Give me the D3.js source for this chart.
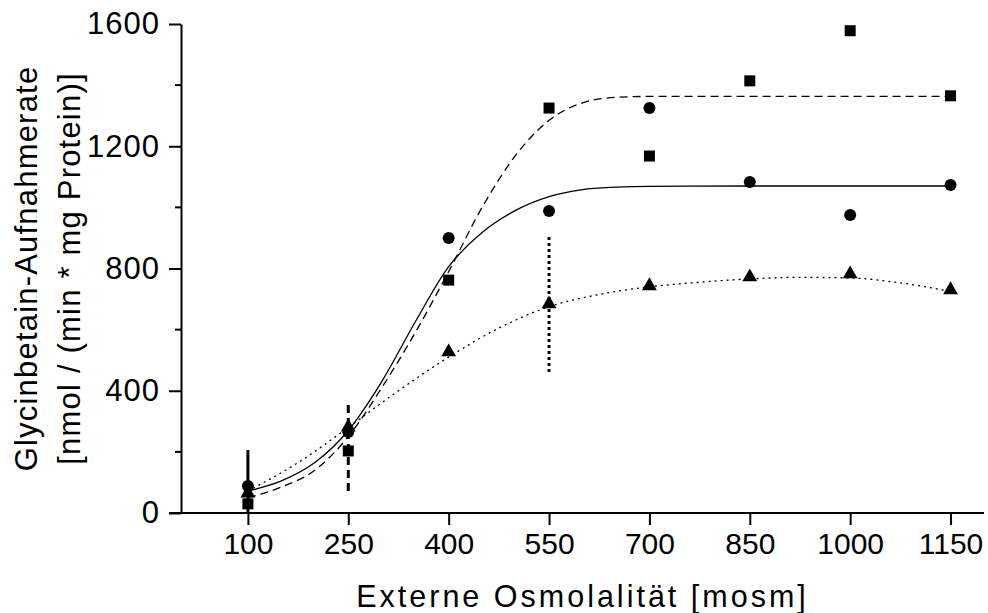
<!DOCTYPE html>
<html lang="de">
<head>
    <meta charset="UTF-8">
    <title>Glycinbetain-Aufnahmerate</title>
    <script src="https://d3js.org/d3.v7.min.js"></script>
<style>
    body { margin: 0; background: #fff; }
    text { font-family: "Liberation Sans", Arial, sans-serif; fill: #000; }
</style>
</head>
<body>
</body>
<script>

// measured values
const osm = [100, 250, 400, 550, 700, 850, 1000, 1150];
const squares = [30, 203, 762, 1325, 1168, 1414, 1578, 1365];
const circles = [88, 265, 900, 988, 1325, 1083, 975, 1073];
const triangles = [65, 281, 527, 684, 743, 772, 782, 730];

// fitted curves
const fitSquares = [[100, 50], [150, 85], [200, 140], [250, 250], [300, 410], [350, 590], [400, 790], [450, 1000], [500, 1170], [550, 1285], [600, 1342], [650, 1360], [700, 1363], [850, 1363], [1000, 1363], [1150, 1363]];
const fitCircles = [[100, 72], [150, 105], [200, 165], [250, 270], [300, 430], [350, 625], [400, 806], [450, 918], [500, 990], [550, 1035], [600, 1058], [650, 1066], [700, 1069], [850, 1070], [1150, 1070]];
const fitTriangles = [[100, 72], [175, 165], [250, 280], [325, 400], [400, 510], [475, 605], [550, 675], [625, 715], [700, 740], [775, 755], [850, 766], [925, 771], [1000, 769], [1075, 753], [1150, 725]];

// error bars: series, osmolality, low, high
const errBars = [
    ['circles', 100, 0, 206],
    ['squares', 250, 72, 363],
    ['triangles', 550, 461, 903]
];

const yTicks = [0, 400, 800, 1200, 1600];
const yMinor = [200, 600, 1000, 1400];

const width = 988, height = 613;
const svg = d3.select('body').append('svg')
    .attr('width', width)
    .attr('height', height);

const x = d3.scaleLinear().domain([0, 1200]).range([181, 984]);
const y = d3.scaleLinear().domain([0, 1600]).range([513, 24]);

const dash = { circles: null, squares: '8,5', triangles: '2,4' };
const errDash = { circles: null, squares: '8,5', triangles: '3,3' };

// axes
const xAxis = d3.axisBottom(x).tickValues(osm).tickFormat(d3.format('d'))
    .tickSize(12).tickPadding(8).tickSizeOuter(0);
const gx = svg.append('g').attr('transform', `translate(0,${y(0)})`).call(xAxis);
gx.select('.domain').attr('d', `M${x(0) - 12},0H${x(1200)}`);

const yAxis = d3.axisLeft(y).tickValues(yTicks).tickFormat(d3.format('d'))
    .tickSize(12).tickPadding(9).tickSizeOuter(0);
const gy = svg.append('g').attr('transform', `translate(${x(0)},0)`).call(yAxis);
gy.selectAll('.minor').data(yMinor).enter().append('line')
    .attr('class', 'minor')
    .attr('x1', -6).attr('x2', 0)
    .attr('y1', d => y(d)).attr('y2', d => y(d));

svg.selectAll('.domain, .tick line, .minor')
    .attr('stroke', '#000')
    .attr('stroke-width', 2);
svg.selectAll('.tick text')
    .attr('font-family', '"Liberation Sans", Arial, sans-serif')
    .attr('fill', '#000');
gx.selectAll('.tick text').attr('font-size', 30);
gy.selectAll('.tick text').attr('font-size', 31).attr('letter-spacing', 1);

// axis titles
svg.append('text')
    .attr('x', (x(0) + x(1200)) / 2)
    .attr('y', 607)
    .attr('text-anchor', 'middle')
    .attr('font-size', 30.5)
    .attr('letter-spacing', 3)
    .text('Externe Osmolalität [mosm]');

const yt = svg.append('text')
    .attr('transform', `translate(0,${(y(0) + y(1600)) / 2}) rotate(-90)`)
    .attr('text-anchor', 'middle')
    .attr('font-size', 31)
    .attr('letter-spacing', 1.2);
yt.append('tspan').attr('x', 0).attr('y', 37).text('Glycinbetain-Aufnahmerate');
yt.append('tspan').attr('x', 0).attr('y', 80).text('[nmol / (min * mg Protein)]');

// fit curves
const line = d3.line()
    .x(d => x(d[0]))
    .y(d => y(d[1]))
    .curve(d3.curveMonotoneX);

[['circles', fitCircles], ['squares', fitSquares], ['triangles', fitTriangles]].forEach(([k, pts]) => {
    svg.append('path')
        .attr('d', line(pts))
        .attr('fill', 'none')
        .attr('stroke', '#000')
        .attr('stroke-width', 1.3)
        .attr('stroke-dasharray', dash[k]);
});

// error bars
svg.selectAll('.err')
    .data(errBars)
    .enter()
    .append('line')
    .attr('class', 'err')
    .attr('x1', d => x(d[1])).attr('x2', d => x(d[1]))
    .attr('y1', d => y(d[2])).attr('y2', d => y(d[3]))
    .attr('stroke', '#000')
    .attr('stroke-width', 3)
    .attr('stroke-dasharray', d => errDash[d[0]]);

// markers
svg.selectAll('.sq')
    .data(osm)
    .enter()
    .append('rect')
    .attr('x', d => x(d) - 5.5)
    .attr('y', (d, i) => y(squares[i]) - 5.5)
    .attr('width', 11).attr('height', 11)
    .attr('fill', '#000');

svg.selectAll('.ci')
    .data(osm)
    .enter()
    .append('circle')
    .attr('cx', d => x(d))
    .attr('cy', (d, i) => y(circles[i]))
    .attr('r', 6)
    .attr('fill', '#000');

const tri = d3.symbol().type(d3.symbolTriangle).size(95);
svg.selectAll('.tr')
    .data(osm)
    .enter()
    .append('path')
    .attr('d', tri)
    .attr('transform', (d, i) => `translate(${x(d)},${y(triangles[i])})`)
    .attr('fill', '#000');

</script>
</html>
